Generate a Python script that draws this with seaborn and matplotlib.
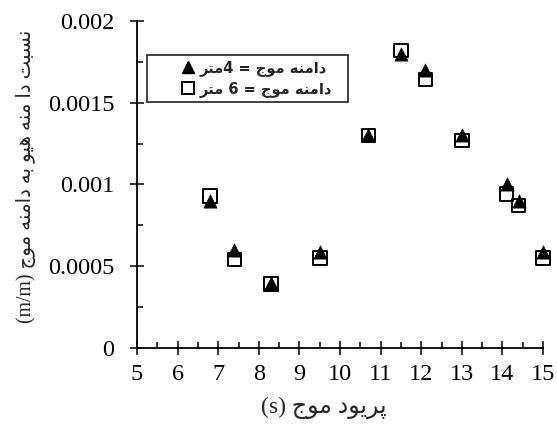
import pandas as pd
import matplotlib
matplotlib.use('Agg')
import matplotlib.pyplot as plt
from matplotlib.ft2font import FT2Font
from matplotlib import font_manager
from matplotlib.ticker import MultipleLocator
from matplotlib.lines import Line2D
import seaborn as sns

# wave period (s)
period_4m = [6.8, 7.4, 8.3, 9.5, 10.7, 11.5, 12.1, 13.0, 14.1, 14.4, 15.0]
ratio_4m = [0.0009, 0.0006, 0.0004, 0.00059, 0.0013, 0.0018, 0.0017, 0.0013, 0.001, 0.0009, 0.00059]
period_6m = [6.8, 7.4, 8.3, 9.5, 10.7, 11.5, 12.1, 13.0, 14.1, 14.4, 15.0]
ratio_6m = [0.00093, 0.00054, 0.00039, 0.00055, 0.0013, 0.00182, 0.00164, 0.00127, 0.00094, 0.00087, 0.00055]

xticks = [5, 6, 7, 8, 9, 10, 11, 12, 13, 14, 15]
yticks = [0, 0.0005, 0.001, 0.0015, 0.002]
ytick_labels = ['0', '0.0005', '0.001', '0.0015', '0.002']

# --- simple arabic/persian shaping (matplotlib has no text shaping) ---
# char: (isolated, final, initial, medial); right-joining letters have only 2
forms = {
    'ا': ('\uFE8D', '\uFE8E'),
    'ب': ('\uFE8F', '\uFE90', '\uFE91', '\uFE92'),
    'ت': ('\uFE95', '\uFE96', '\uFE97', '\uFE98'),
    'ج': ('\uFE9D', '\uFE9E', '\uFE9F', '\uFEA0'),
    'د': ('\uFEA9', '\uFEAA'),
    'ر': ('\uFEAD', '\uFEAE'),
    'س': ('\uFEB1', '\uFEB2', '\uFEB3', '\uFEB4'),
    'م': ('\uFEE1', '\uFEE2', '\uFEE3', '\uFEE4'),
    'ن': ('\uFEE5', '\uFEE6', '\uFEE7', '\uFEE8'),
    'ه': ('\uFEE9', '\uFEEA', '\uFEEB', '\uFEEC'),
    'و': ('\uFEED', '\uFEEE'),
    'ی': ('\uFEF1', '\uFEF2', '\uFEF3', '\uFEF4'),
    'پ': ('\uFB56', '\uFB57', '\uFB58', '\uFB59'),
}

dv_path = font_manager.findfont(font_manager.FontProperties(family='DejaVu Sans'))
dv_chars = FT2Font(dv_path).get_charmap()
if 0xFB58 not in dv_chars:
    # fall back to beh forms if the persian peh forms are missing
    forms['پ'] = forms['ب']


def shape(text):
    out = []
    for i, ch in enumerate(text):
        if ch not in forms:
            out.append(ch)
            continue
        prev = text[i - 1] if i > 0 else ''
        nxt = text[i + 1] if i + 1 < len(text) else ''
        join_prev = prev in forms and len(forms[prev]) == 4
        join_next = len(forms[ch]) == 4 and nxt in forms
        f = forms[ch]
        if join_prev and join_next:
            out.append(f[3])
        elif join_prev:
            out.append(f[1])
        elif join_next:
            out.append(f[2])
        else:
            out.append(f[0])
    return ''.join(out)


def rtl(text):
    return shape(text)[::-1]


label_4m = rtl('متر') + '4 = ' + rtl('دامنه موج')
label_6m = rtl('متر') + ' 6 = ' + rtl('دامنه موج')
xlabel = '(s) ' + rtl('پریود موج')
ylabel = '(m/m) ' + rtl('نسبت دا منه هیو به دامنه موج')

sns.set_theme(style='ticks')
plt.rcParams['font.family'] = ['Liberation Serif', 'DejaVu Sans']
plt.rcParams['axes.edgecolor'] = 'black'
plt.rcParams['xtick.color'] = 'black'
plt.rcParams['ytick.color'] = 'black'

df4 = pd.DataFrame({'period': period_4m, 'ratio': ratio_4m})
df6 = pd.DataFrame({'period': period_6m, 'ratio': ratio_6m})

fig = plt.figure(figsize=(5.57, 4.25), dpi=100)
ax = fig.add_axes([0.246, 0.181, 0.729, 0.770])

sns.scatterplot(data=df6, x='period', y='ratio', marker='s', s=95,
                facecolor='none', edgecolor='black', linewidth=1.4,
                ax=ax, clip_on=False, zorder=3)
sns.scatterplot(data=df4, x='period', y='ratio', marker='^', s=90,
                color='black', edgecolor='black', linewidth=0.5,
                ax=ax, clip_on=False, zorder=4)

ax.set_xlim(5, 15)
ax.set_ylim(0, 0.002)
ax.set_xticks(xticks)
ax.set_xticklabels([str(t) for t in xticks])
ax.set_yticks(yticks)
ax.set_yticklabels(ytick_labels)
ax.xaxis.set_minor_locator(MultipleLocator(0.5))
ax.yaxis.set_minor_locator(MultipleLocator(0.00025))
ax.tick_params(which='major', direction='inout', length=10.5, width=1.1,
               labelsize=17.5)
ax.tick_params(axis='y', which='major', pad=11)
ax.tick_params(axis='x', which='major', pad=6)
ax.tick_params(which='minor', direction='in', length=4.5, width=1.1)

sns.despine(ax=ax)
for sp in ['left', 'bottom']:
    ax.spines[sp].set_linewidth(1.3)

ax.set_xlabel(xlabel, fontsize=17, labelpad=6)
ax.xaxis.set_label_coords(0.46, -0.15)
ax.set_ylabel(ylabel, fontsize=14.2, labelpad=7)
ax.yaxis.set_label_coords(-0.25, 0.525)

handles = [
    Line2D([], [], marker='^', linestyle='none', color='black', markersize=8.5),
    Line2D([], [], marker='s', linestyle='none', markerfacecolor='none',
           markeredgecolor='black', markeredgewidth=1.4, markersize=8.5),
]
leg = ax.legend(handles, [label_4m, label_6m],
                bbox_to_anchor=(0.025, 0.752, 0.495, 0.143), loc='upper left',
                mode='expand', borderaxespad=0, frameon=True, fancybox=False,
                handletextpad=-1.65, handlelength=4.87, borderpad=0.35,
                labelspacing=0.35,
                prop={'family': ['DejaVu Sans'], 'weight': 'bold', 'size': 10.5})
leg.get_frame().set_edgecolor('black')
leg.get_frame().set_linewidth(1.3)

fig.savefig('out.png', dpi=100)
